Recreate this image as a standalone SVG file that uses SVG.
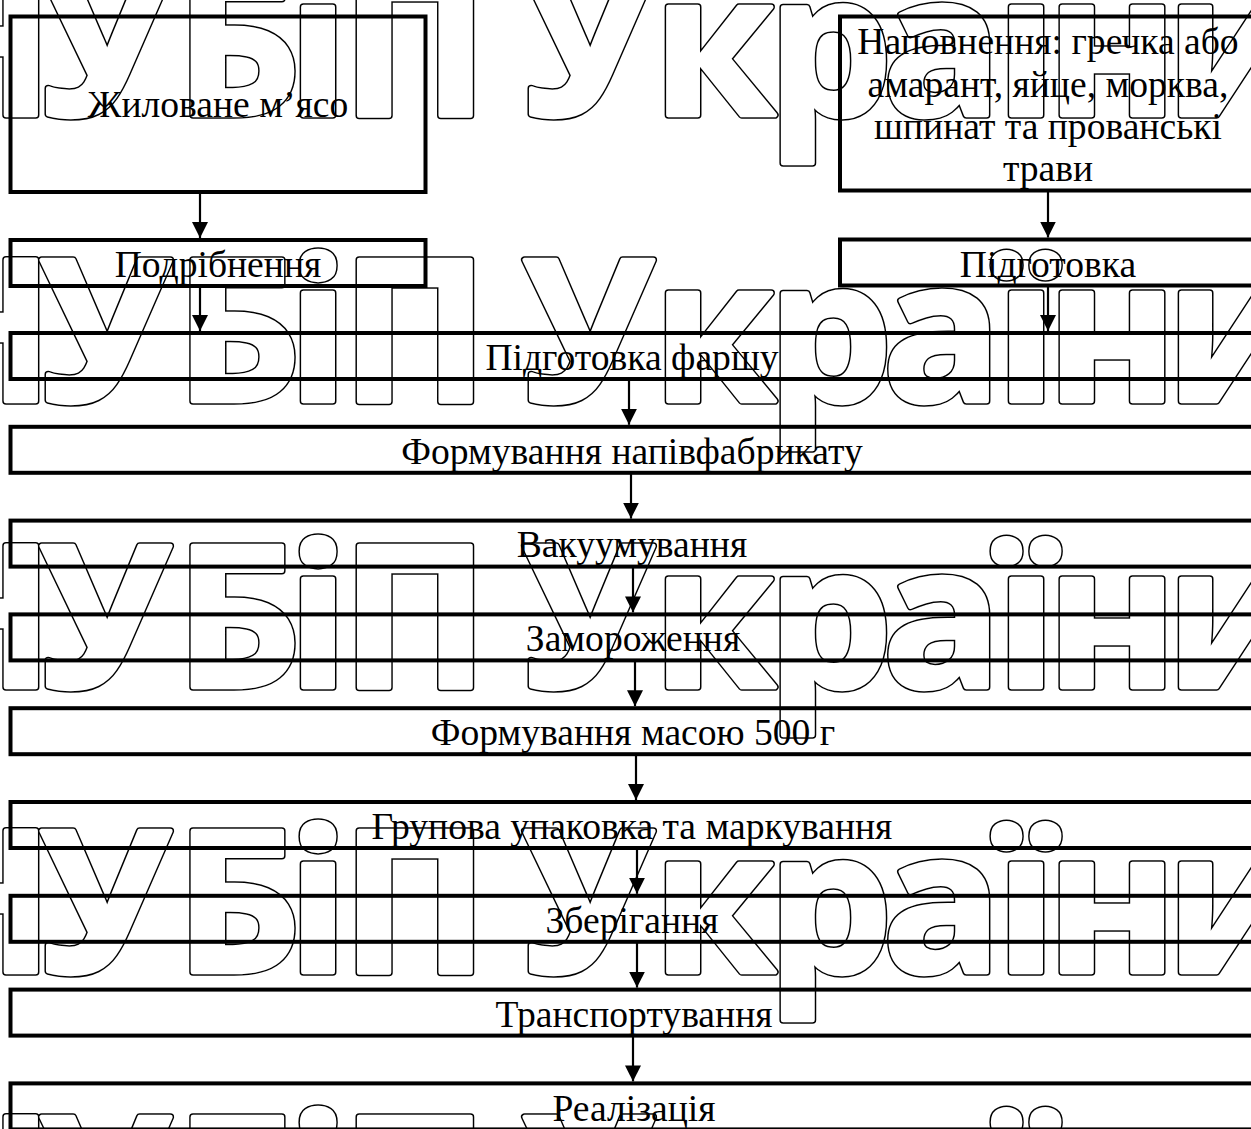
<svg xmlns="http://www.w3.org/2000/svg" width="1251" height="1129" viewBox="0 0 1251 1129">
<style>
.box{fill:none;stroke:#000;stroke-width:4}
.t{font-family:"Liberation Serif","Times New Roman",serif;font-size:37.6px;fill:#000;text-anchor:middle}
.wmt{font-family:"Open Sans","Noto Sans",sans-serif;font-weight:bold;font-size:197px;text-anchor:middle}
.wmo{fill:none;stroke:#000;stroke-width:7.5;stroke-linejoin:round}
.wmi{fill:#fff;stroke:#fff;stroke-width:4.5;stroke-linejoin:round}
#connectors line{stroke:#000;stroke-width:2.2}
</style>
<defs>
<marker id="arr" viewBox="0 0 16 16" refX="16" refY="8" markerWidth="16" markerHeight="16" markerUnits="userSpaceOnUse" orient="auto">
<path d="M0,0 L16,8 L0,16 z" fill="#000"/>
</marker>
<text id="wmtext" class="wmt" x="-22 105 238 318 415 500 588 714 830 942 1026 1112 1237" y="0">НУБіП України</text>
</defs>
<rect width="1251" height="1129" fill="#fff"/>
<g id="watermark">
<use href="#wmtext" class="wmo" y="115"/><use href="#wmtext" class="wmi" y="115"/>
<use href="#wmtext" class="wmo" y="401"/><use href="#wmtext" class="wmi" y="401"/>
<use href="#wmtext" class="wmo" y="687"/><use href="#wmtext" class="wmi" y="687"/>
<use href="#wmtext" class="wmo" y="972"/><use href="#wmtext" class="wmi" y="972"/>
<use href="#wmtext" class="wmo" y="1258"/><use href="#wmtext" class="wmi" y="1258"/>
</g>
<g id="n-meat"><rect class="box" x="10.5" y="16.5" width="415" height="175.5"/><text class="t" x="218" y="117">Жиловане м’ясо</text></g>
<g id="n-grind"><rect class="box" x="10.5" y="240" width="415" height="46"/><text class="t" x="218" y="277">Подрібнення</text></g>
<g id="n-filling"><rect class="box" x="840" y="16.5" width="420" height="174"/>
<text class="t" x="1048" y="54">Наповнення: гречка або</text>
<text class="t" x="1048" y="97">амарант, яйце, морква,</text>
<text class="t" x="1048" y="139">шпинат та прованські</text>
<text class="t" x="1048" y="181">трави</text></g>
<g id="n-prep"><rect class="box" x="840" y="239.5" width="420" height="46"/><text class="t" x="1048" y="277">Підготовка</text></g>
<g id="n-mince"><rect class="box" x="10.5" y="333" width="1252" height="46"/><text class="t" x="632" y="370">Підготовка фаршу</text></g>
<g id="n-form"><rect class="box" x="10.5" y="426.8" width="1252" height="46"/><text class="t" x="632" y="464">Формування напівфабрикату</text></g>
<g id="n-vacuum"><rect class="box" x="10.5" y="520.6" width="1252" height="46"/><text class="t" x="632" y="557">Вакуумування</text></g>
<g id="n-freeze"><rect class="box" x="10.5" y="614.4" width="1252" height="46"/><text class="t" x="633" y="651">Замороження</text></g>
<g id="n-form500"><rect class="box" x="10.5" y="708.2" width="1252" height="46"/><text class="t" x="633" y="745">Формування масою 500 г</text></g>
<g id="n-pack"><rect class="box" x="10.5" y="802" width="1252" height="46"/><text class="t" x="632" y="839">Групова упаковка та маркування</text></g>
<g id="n-store"><rect class="box" x="10.5" y="895.8" width="1252" height="46"/><text class="t" x="632" y="933">Зберігання</text></g>
<g id="n-transport"><rect class="box" x="10.5" y="989.6" width="1252" height="46"/><text class="t" x="634" y="1027">Транспортування</text></g>
<g id="n-sale"><rect class="box" x="10.5" y="1083.4" width="1252" height="46"/><text class="t" x="634" y="1121">Реалізація</text></g>
<g id="connectors">
<line x1="200" y1="192" x2="200" y2="238" marker-end="url(#arr)"/>
<line x1="200" y1="286" x2="200" y2="331" marker-end="url(#arr)"/>
<line x1="1048" y1="190.5" x2="1048" y2="237.5" marker-end="url(#arr)"/>
<line x1="1048" y1="285.5" x2="1048" y2="331" marker-end="url(#arr)"/>
<line x1="629" y1="379" x2="629" y2="424.8" marker-end="url(#arr)"/>
<line x1="631" y1="472.8" x2="631" y2="518.6" marker-end="url(#arr)"/>
<line x1="633" y1="566.6" x2="633" y2="612.4" marker-end="url(#arr)"/>
<line x1="635" y1="660.4" x2="635" y2="706.2" marker-end="url(#arr)"/>
<line x1="636" y1="754.2" x2="636" y2="800" marker-end="url(#arr)"/>
<line x1="637" y1="848" x2="637" y2="893.8" marker-end="url(#arr)"/>
<line x1="637" y1="941.8" x2="637" y2="987.6" marker-end="url(#arr)"/>
<line x1="633" y1="1035.6" x2="633" y2="1081.4" marker-end="url(#arr)"/>
</g>
</svg>
